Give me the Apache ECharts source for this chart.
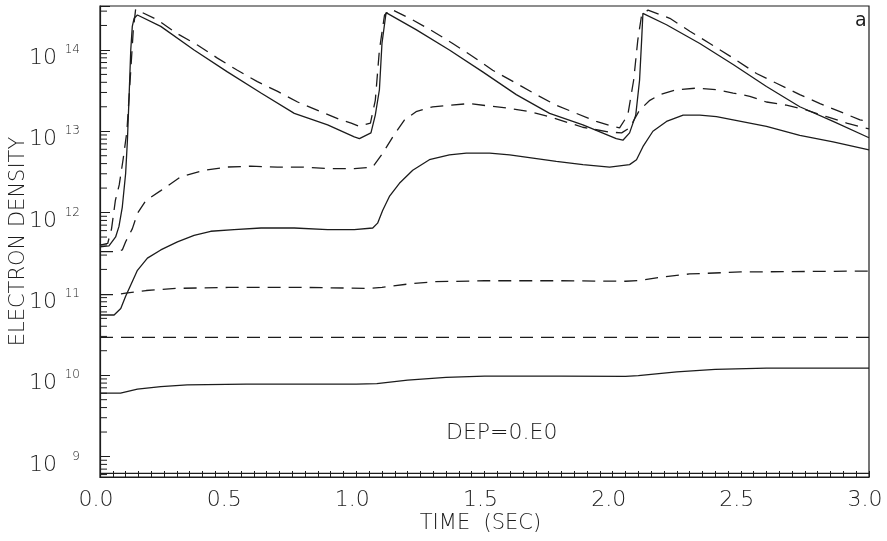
<!DOCTYPE html>
<html>
<head>
<meta charset="utf-8">
<script src="https://cdn.jsdelivr.net/npm/echarts@6/dist/echarts.min.js"></script>
<style>
  html, body { margin: 0; padding: 0; background: #fff; }
  #chart { width: 887px; height: 541px; }
</style>
</head>
<body>
<div id="chart"></div>
<script>
// Electron density vs time, three pulses (DEP = 0.E0)

// upper solid curve
const s1Time = [0, 0.035, 0.061, 0.074, 0.087, 0.100, 0.107, 0.113, 0.120, 0.126, 0.133, 0.146, 0.237, 0.367, 0.497, 0.628, 0.758, 0.888, 0.992, 1.012, 1.057, 1.074, 1.09, 1.10, 1.116, 1.233, 1.363, 1.493, 1.624, 1.754, 1.884, 2.014, 2.04, 2.066, 2.09, 2.105, 2.113, 2.118, 2.21, 2.34, 2.47, 2.60, 2.73, 2.86, 3.0];
const s1Density = [3.80e11, 3.89e11, 5.01e11, 6.76e11, 1.17e12, 3.02e12, 7.76e12, 2.45e13, 1.0e14, 1.95e14, 2.45e14, 2.69e14, 1.95e14, 1.0e14, 5.37e13, 2.95e13, 1.66e13, 1.20e13, 8.51e12, 8.13e12, 9.55e12, 1.58e13, 3.24e13, 1.20e14, 2.88e14, 1.78e14, 1.0e14, 5.37e13, 2.82e13, 1.66e13, 1.20e13, 8.13e12, 7.76e12, 9.55e12, 1.58e13, 4.27e13, 1.32e14, 2.82e14, 2.04e14, 1.20e14, 6.61e13, 3.55e13, 2.0e13, 1.32e13, 8.32e12];

// upper dashed curve
const d1Time = [0, 0.03, 0.045, 0.06, 0.075, 0.09, 0.105, 0.12, 0.13, 0.139, 0.146, 0.224, 0.302, 0.38, 0.458, 0.536, 0.614, 0.693, 0.771, 0.862, 0.94, 0.98, 1.012, 1.055, 1.074, 1.09, 1.11, 1.136, 1.22, 1.298, 1.376, 1.454, 1.532, 1.624, 1.702, 1.78, 1.858, 1.936, 2.001, 2.027, 2.059, 2.082, 2.098, 2.113, 2.138, 2.223, 2.301, 2.379, 2.47, 2.561, 2.639, 2.73, 2.809, 2.887, 2.965, 3.0];
const d1Density = [3.98e11, 4.17e11, 6.31e11, 1.41e12, 2.19e12, 4.47e12, 1.0e13, 5.62e13, 1.78e14, 3.16e14, 3.09e14, 2.34e14, 1.58e14, 1.15e14, 7.94e13, 5.62e13, 4.07e13, 3.09e13, 2.29e13, 1.74e13, 1.38e13, 1.26e13, 1.15e13, 1.26e13, 2.40e13, 1.0e14, 2.69e14, 3.16e14, 2.34e14, 1.70e14, 1.20e14, 8.32e13, 5.62e13, 3.89e13, 2.82e13, 2.09e13, 1.66e13, 1.32e13, 1.15e13, 1.10e13, 1.58e13, 4.27e13, 1.32e14, 2.69e14, 3.09e14, 2.45e14, 1.70e14, 1.20e14, 7.94e13, 5.13e13, 3.89e13, 2.82e13, 2.19e13, 1.74e13, 1.38e13, 1.32e13];

// middle dashed curve
const d2Time = [0, 0.06, 0.087, 0.1, 0.126, 0.146, 0.179, 0.237, 0.315, 0.406, 0.497, 0.588, 0.692, 0.784, 0.888, 0.992, 1.064, 1.103, 1.142, 1.188, 1.233, 1.298, 1.363, 1.441, 1.52, 1.598, 1.676, 1.754, 1.883, 1.988, 2.035, 2.066, 2.105, 2.145, 2.184, 2.249, 2.327, 2.405, 2.47, 2.535, 2.60, 2.678, 2.757, 2.835, 2.913, 3.0];
const d2Density = [3.31e11, 3.31e11, 3.47e11, 4.37e11, 6.31e11, 9.77e11, 1.41e12, 1.86e12, 2.75e12, 3.31e12, 3.63e12, 3.72e12, 3.63e12, 3.63e12, 3.47e12, 3.47e12, 3.63e12, 5.37e12, 8.51e12, 1.38e13, 1.74e13, 2.0e13, 2.09e13, 2.19e13, 2.04e13, 1.91e13, 1.74e13, 1.51e13, 1.12e13, 9.77e12, 9.55e12, 1.10e13, 1.82e13, 2.40e13, 2.82e13, 3.24e13, 3.39e13, 3.24e13, 2.95e13, 2.69e13, 2.29e13, 2.09e13, 1.82e13, 1.51e13, 1.26e13, 1.07e13];

// middle solid curve
const s2Time = [0, 0.055, 0.081, 0.10, 0.12, 0.146, 0.185, 0.237, 0.302, 0.367, 0.432, 0.523, 0.628, 0.758, 0.888, 0.992, 1.064, 1.083, 1.103, 1.129, 1.168, 1.22, 1.285, 1.363, 1.429, 1.52, 1.598, 1.689, 1.78, 1.884, 1.988, 2.066, 2.093, 2.118, 2.157, 2.21, 2.275, 2.34, 2.405, 2.47, 2.60, 2.73, 2.86, 3.0];
const s2Density = [5.50e10, 5.50e10, 6.61e10, 9.33e10, 1.29e11, 1.95e11, 2.75e11, 3.47e11, 4.37e11, 5.25e11, 5.89e11, 6.17e11, 6.46e11, 6.46e11, 6.17e11, 6.17e11, 6.46e11, 7.41e11, 1.07e12, 1.58e12, 2.29e12, 3.31e12, 4.47e12, 5.13e12, 5.37e12, 5.37e12, 5.13e12, 4.68e12, 4.27e12, 3.89e12, 3.63e12, 3.89e12, 4.47e12, 6.46e12, 1.0e13, 1.32e13, 1.58e13, 1.58e13, 1.51e13, 1.38e13, 1.15e13, 8.91e12, 7.41e12, 5.89e12];

// lower dashed curve near 1e11
const d3Time = [0, 0.06, 0.1, 0.18, 0.3, 0.5, 0.8, 1.05, 1.1, 1.2, 1.3, 1.5, 1.8, 2.05, 2.1, 2.2, 2.3, 2.5, 2.8, 3.0];
const d3Density = [9.77e10, 9.77e10, 1.02e11, 1.10e11, 1.17e11, 1.20e11, 1.20e11, 1.17e11, 1.20e11, 1.32e11, 1.41e11, 1.45e11, 1.45e11, 1.43e11, 1.46e11, 1.62e11, 1.76e11, 1.86e11, 1.89e11, 1.91e11];

// flat dashed curve near 3e10
const d4Time = [0, 3.0];
const d4Density = [2.92e10, 2.92e10];

// lower solid curve near 1e10
const s3Time = [0, 0.08, 0.146, 0.237, 0.34, 0.57, 1.0, 1.08, 1.2, 1.35, 1.5, 1.8, 2.05, 2.1, 2.25, 2.4, 2.6, 3.0];
const s3Density = [6.03e9, 6.03e9, 6.76e9, 7.24e9, 7.59e9, 7.76e9, 7.76e9, 7.9e9, 8.71e9, 9.4e9, 9.77e9, 9.77e9, 9.7e9, 9.9e9, 1.10e10, 1.18e10, 1.22e10, 1.22e10];

// floor curve along the time axis
const s4Time = [0, 3.0];
const s4Density = [6.2e8, 6.2e8];

// axis ranges and ticks
const timeMin = 0, timeMax = 3.0, timeStep = 0.5;
const densityMin = 5.6e8, densityMax = 3.47e14;
const minorMantissas = [2, 3, 4, 5, 6, 7, 8, 9];
const decades = [8, 9, 10, 11, 12, 13, 14];

const minorTickValues = [];
decades.forEach(function (e) {
  minorMantissas.forEach(function (m) {
    const v = m * Math.pow(10, e);
    if (v > densityMin && v < densityMax) minorTickValues.push(v);
  });
});

const ink = '#1c1c1c';
const fontFamily = "'DejaVu Sans', sans-serif";

function pairs(t, v) { return t.map(function (x, i) { return [x, v[i]]; }); }
function isDecade(v) {
  const l = Math.log10(v);
  return Math.abs(l - Math.round(l)) < 1e-6;
}

function curve(t, v, dashed) {
  return {
    type: 'line',
    data: pairs(t, v),
    symbol: 'none',
    smooth: false,
    silent: true,
    lineStyle: { color: ink, width: 1.3, type: dashed ? [13, 8] : 'solid' }
  };
}

const chart = echarts.init(document.getElementById('chart'), null, { renderer: 'canvas' });

chart.setOption({
  animation: false,
  backgroundColor: '#fff',
  grid: {
    left: 100, right: 18, top: 6, bottom: 64,
    show: true, borderColor: ink, borderWidth: 1.2,
    containLabel: false, outerBoundsMode: 'none'
  },
  xAxis: {
    type: 'value', min: timeMin, max: timeMax, interval: timeStep,
    name: 'TIME  (SEC)', nameLocation: 'middle', nameGap: 36, nameMoveOverlap: false,
    nameTextStyle: { fontFamily: fontFamily, fontWeight: 200, fontSize: 21, color: ink, padding: [0, 8, 0, 0] },
    axisLine: { show: true, lineStyle: { color: ink, width: 1.2 } },
    axisTick: { show: true, inside: true, length: 6, lineStyle: { color: ink, width: 1 } },
    minorTick: { show: true, splitNumber: 10, length: 6, lineStyle: { color: ink, width: 1 } },
    splitLine: { show: false },
    axisLabel: {
      fontFamily: fontFamily, fontWeight: 200, fontSize: 22, color: ink, margin: 12,
      padding: [0, 8, 0, 0],
      formatter: function (v) { return v.toFixed(1); }
    }
  },
  yAxis: [
    {
      type: 'log', logBase: 10, min: densityMin, max: densityMax,
      name: 'ELECTRON DENSITY', nameLocation: 'middle', nameGap: 71, nameRotate: 90, nameMoveOverlap: false,
      nameTextStyle: { fontFamily: fontFamily, fontWeight: 200, fontSize: 21, color: ink },
      axisLine: { show: true, lineStyle: { color: ink, width: 1.2 } },
      axisTick: { show: true, inside: true, length: 10, lineStyle: { color: ink, width: 1 } },
      splitLine: { show: false },
      axisLabel: {
        fontFamily: fontFamily, fontWeight: 200, fontSize: 22, color: ink,
        margin: 43, verticalAlign: 'top', lineHeight: 17,
        formatter: function (v) { return isDecade(v) ? '10' : ''; }
      }
    },
    {
      type: 'log', logBase: 10, min: densityMin, max: densityMax, position: 'left',
      axisLine: { show: false }, axisTick: { show: false }, splitLine: { show: false },
      axisLabel: {
        fontFamily: fontFamily, fontWeight: 200, fontSize: 12, color: ink, margin: 20,
        formatter: function (v) { return isDecade(v) ? String(Math.round(Math.log10(v))) : ''; }
      }
    }
  ],
  graphic: [
    { type: 'text', left: 446, top: 422, style: { text: 'DEP=0.E0', font: "200 22px 'DejaVu Sans', sans-serif", fill: ink } },
    { type: 'text', left: 855, top: 12, style: { text: 'a', font: "19px 'DejaVu Sans', sans-serif", fill: ink } }
  ],
  series: [
    curve(s1Time, s1Density, false),
    curve(d1Time, d1Density, true),
    curve(d2Time, d2Density, true),
    curve(s2Time, s2Density, false),
    curve(d3Time, d3Density, true),
    curve(d4Time, d4Density, true),
    curve(s3Time, s3Density, false),
    curve(s4Time, s4Density, false),
    {
      type: 'custom',
      silent: true,
      data: minorTickValues.map(function (v) { return [timeMin, v]; }),
      renderItem: function (params, api) {
        const p = api.coord([api.value(0), api.value(1)]);
        return {
          type: 'line',
          shape: { x1: p[0], y1: p[1], x2: p[0] + 7, y2: p[1] },
          style: { stroke: ink, lineWidth: 1 }
        };
      },
      z: 5
    }
  ]
});
</script>
</body>
</html>
